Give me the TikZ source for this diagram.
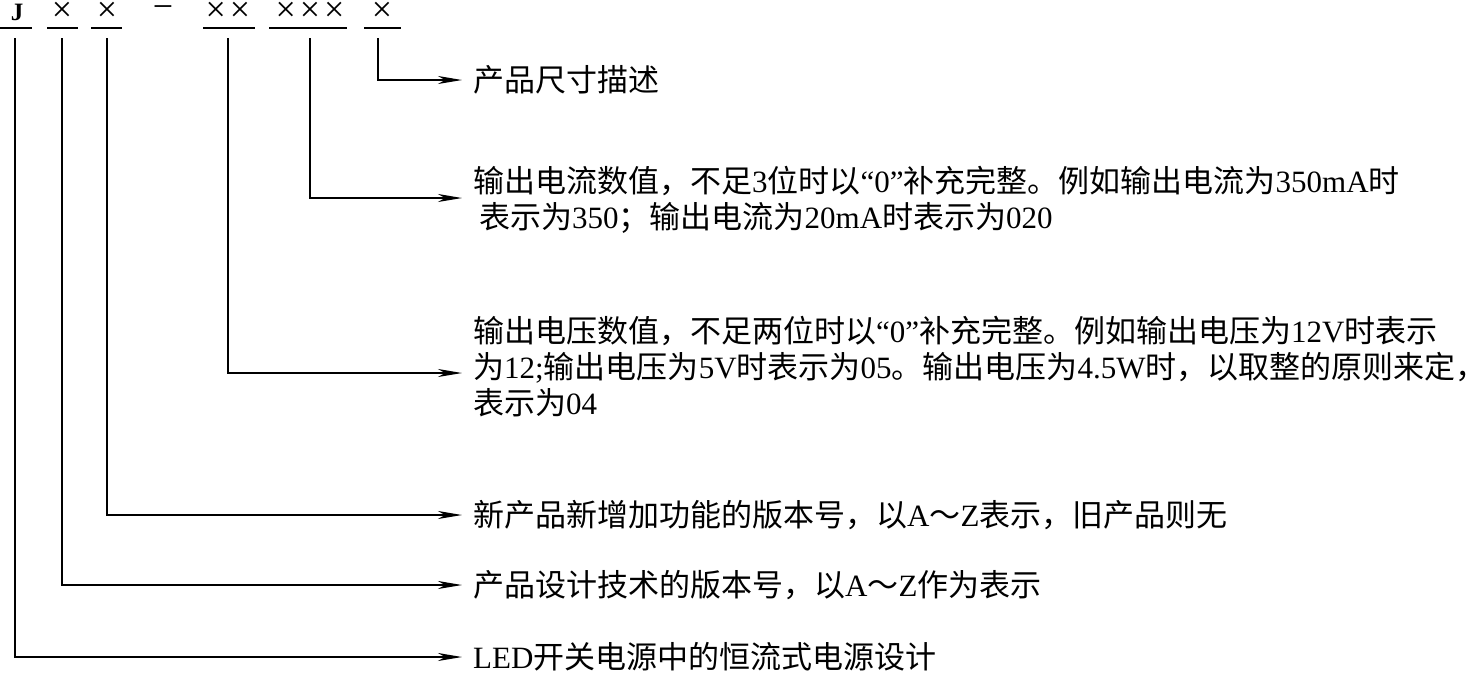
\documentclass[tikz,border=0pt]{standalone}
\usepackage{fontspec}
\setmainfont{Liberation Serif}
\newfontfamily\cjk{Noto Sans CJK SC}
\usetikzlibrary{arrows.meta,positioning}

\newcommand{\zh}[1]{{\cjk #1}}

\tikzset{
  sym/.style={inner sep=0pt, font=\fontsize{36}{36}\selectfont},
  uline/.style={line width=1.6pt},
  desc/.style={anchor=west, align=left, inner xsep=11pt, inner ysep=0pt, font=\fontsize{31}{36}\selectfont},
  link/.style={line width=1.8pt, -{Stealth[length=24pt,width=8pt,inset=7pt]}},
}

\begin{document}
\begin{tikzpicture}[x=1pt,y=-1pt]
    \useasboundingbox (0,0) rectangle (1480,673);

    % model code
    \node[sym, font=\fontsize{25}{25}\selectfont\bfseries] (hJ) at (17,12) {J};
    \node[sym] (hVer) at (62,12) {×};
    \node[sym] (hFun) at (107,12) {×};
    \node[sym] (hDash) at (163,12) {−};
    \node[sym] (hVolt) at (228,12) {×\hspace{4pt}×};
    \node[sym] (hCur) at (310,12) {×\hspace{4pt}×\hspace{4pt}×};
    \node[sym] (hSize) at (382,12) {×};

    \draw[uline] (0,28) -- (32,28);
    \draw[uline] (47,28) -- (78,28);
    \draw[uline] (91,28) -- (122,28);
    \draw[uline] (203,28) -- (255,28);
    \draw[uline] (269,28) -- (347,28);
    \draw[uline] (364,28) -- (401,28);

    % descriptions
    \node[desc] (dSize) at (462,80) {\zh{产品尺寸描述}};
    \node[desc] (dCur) at (462,200) {\zh{输出电流数值，不足}3\zh{位时以}“0”\zh{补充完整。例如输出电流为}350mA\zh{时}\\
        \hspace*{6pt}\zh{表示为}350\zh{；输出电流为}20mA\zh{时表示为}020};
    \node[desc] (dVolt) at (462,367) {\zh{输出电压数值，不足两位时以}“0”\zh{补充完整。例如输出电压为}12V\zh{时表示}\\
        \zh{为}12;\zh{输出电压为}5V\zh{时表示为}05\zh{。输出电压为}4.5W\zh{时，以取整的原则来定，}\\
        \zh{表示为}04};
    \node[desc] (dFun) at (462,515) {\zh{新产品新增加功能的版本号，以}A\zh{～}Z\zh{表示，旧产品则无}};
    \node[desc] (dVer) at (462,585) {\zh{产品设计技术的版本号，以}A\zh{～}Z\zh{作为表示}};
    \node[desc] (dLED) at (462,657) {LED\zh{开关电源中的恒流式电源设计}};

    % leaders
    \path (15,38) coordinate (sJ);
    \path (62,38) coordinate (sVer);
    \path (107,38) coordinate (sFun);
    \path (228,38) coordinate (sVolt);
    \path (310,38) coordinate (sCur);
    \path (378,38) coordinate (sSize);

    \draw[link] (sSize) |- (dSize.west);
    \draw[link] (sCur) |- ([yshift=2pt]dCur.west);
    \draw[link] (sVolt) |- ([yshift=-6pt]dVolt.west);
    \draw[link] (sFun) |- (dFun.west);
    \draw[link] (sVer) |- (dVer.west);
    \draw[link] (sJ) |- (dLED.west);
\end{tikzpicture}
\end{document}
